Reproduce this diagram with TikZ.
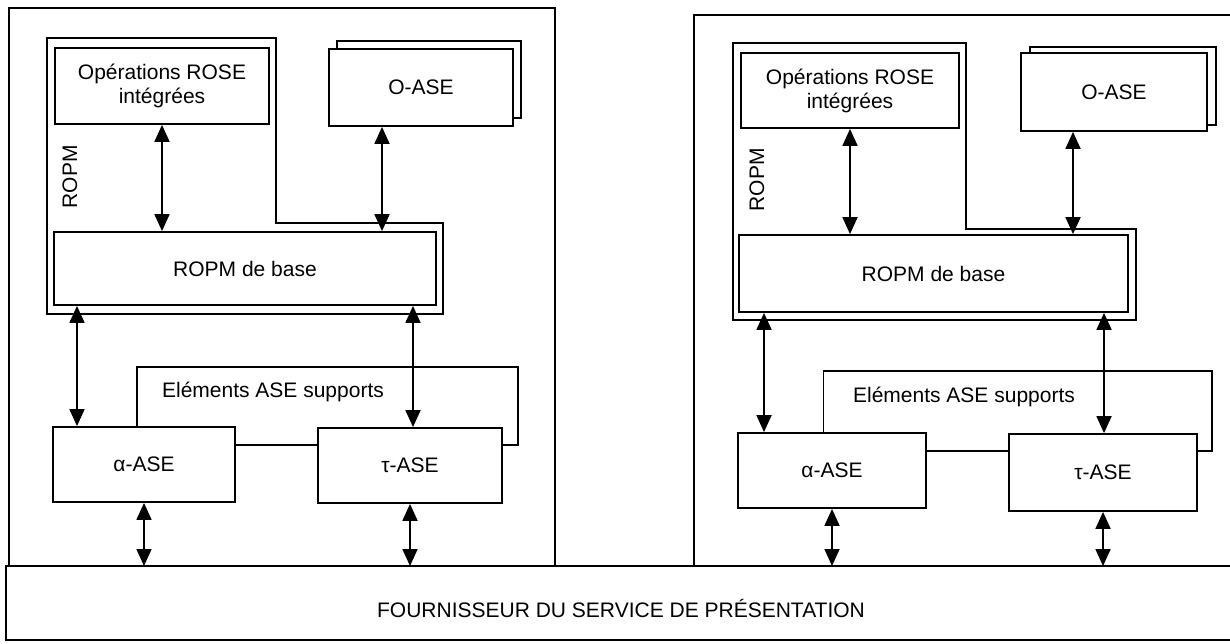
\documentclass[tikz,border=0pt]{standalone}
\usepackage{fontspec}
\setmainfont{Liberation Sans}
\usetikzlibrary{arrows.meta}
\begin{document}
\begin{tikzpicture}[x=1pt,y=-1pt,
  every node/.style={font=\fontsize{21}{24}\selectfont},
  ln/.style={line width=1.8pt},
  rbox/.style={draw,line width=1.8pt,fill=white,inner sep=0pt,align=center},
  arr/.style={line width=1.8pt,{Triangle[length=17pt,width=15pt]}-{Triangle[length=17pt,width=15pt]}}]
\useasboundingbox (0,0) rectangle (1230,644);
\coordinate (provtop) at (0,566);
% ---------- provider ----------
\draw[ln] (1230,566) -- (6,566) -- (6,640) -- (1230,640);
\node (prov) at (621,608) {FOURNISSEUR DU SERVICE DE PRÉSENTATION};
% ---------- left panel ----------
\draw[ln] (9,566) -- (9,8) -- (555,8) -- (555,566);
\draw[ln] (47,38) -- (276,38) -- (276,223) -- (443,223) -- (443,314) -- (47,314) -- cycle;
\node[rbox,minimum width=214pt,minimum height=76pt] (opsL) at (162,86) {Opérations ROSE\\intégrées};
\node[rbox,minimum width=382pt,minimum height=73pt] (baseL) at (245,268.5) {ROPM de base};
\draw[ln] (337,41) rectangle (521,118);
\node[rbox,minimum width=184pt,minimum height=77pt] (oaseL) at (421,87.5) {O-ASE};
\node[rotate=90] (ropmL) at (70,177) {ROPM};
\coordinate (xoL) at (382,0);
\draw[arr] (opsL.south) -- (opsL.south |- baseL.north);
\draw[arr] (oaseL.south -| xoL) -- (baseL.north -| xoL);
\node[draw,line width=1.8pt,minimum width=381pt,minimum height=78pt] (elemL) at (327.5,406) {};
\node (elemtL) at (273,392) {Eléments ASE supports};
\node[rbox,minimum width=182pt,minimum height=75pt] (alphaL) at (144,464.5) {α-ASE};
\node[rbox,minimum width=184pt,minimum height=75pt] (tauL) at (410,465.5) {τ-ASE};
\coordinate (xaL) at (77,0);
\coordinate (xtL) at (413,0);
\draw[arr] (baseL.south -| xaL) -- (alphaL.north -| xaL);
\draw[arr] (baseL.south -| xtL) -- (tauL.north -| xtL);
\draw[arr] (alphaL.south) -- (alphaL.south |- provtop);
\draw[arr] (tauL.south) -- (tauL.south |- provtop);
% ---------- right panel ----------
\draw[ln] (694,566) -- (694,15) -- (1230,15);
\draw[ln] (733,43) -- (966,43) -- (966,229) -- (1136,229) -- (1136,320) -- (733,320) -- cycle;
\node[rbox,minimum width=218pt,minimum height=75pt] (opsR) at (850,90.5) {Opérations ROSE\\intégrées};
\node[rbox,minimum width=389pt,minimum height=77pt] (baseR) at (933.5,273.5) {ROPM de base};
\draw[ln] (1030,47) rectangle (1216,125);
\node[rbox,minimum width=186pt,minimum height=78pt] (oaseR) at (1114,92) {O-ASE};
\node[rotate=90] (ropmR) at (757,180) {ROPM};
\coordinate (xoR) at (1073,0);
\draw[arr] (opsR.south) -- (opsR.south |- baseR.north);
\draw[arr] (oaseR.south -| xoR) -- (baseR.north -| xoR);
\node[draw,line width=1.8pt,minimum width=388.5pt,minimum height=80pt] (elemR) at (1017.75,411) {};
\node (elemtR) at (964,397) {Eléments ASE supports};
\node[rbox,minimum width=188pt,minimum height=75pt] (alphaR) at (832,470.5) {α-ASE};
\node[rbox,minimum width=188pt,minimum height=77pt] (tauR) at (1103,472.5) {τ-ASE};
\coordinate (xaR) at (764,0);
\coordinate (xtR) at (1104,0);
\draw[arr] (baseR.south -| xaR) -- (alphaR.north -| xaR);
\draw[arr] (baseR.south -| xtR) -- (tauR.north -| xtR);
\draw[arr] (alphaR.south) -- (alphaR.south |- provtop);
\draw[arr] (tauR.south) -- (tauR.south |- provtop);
\end{tikzpicture}
\end{document}
